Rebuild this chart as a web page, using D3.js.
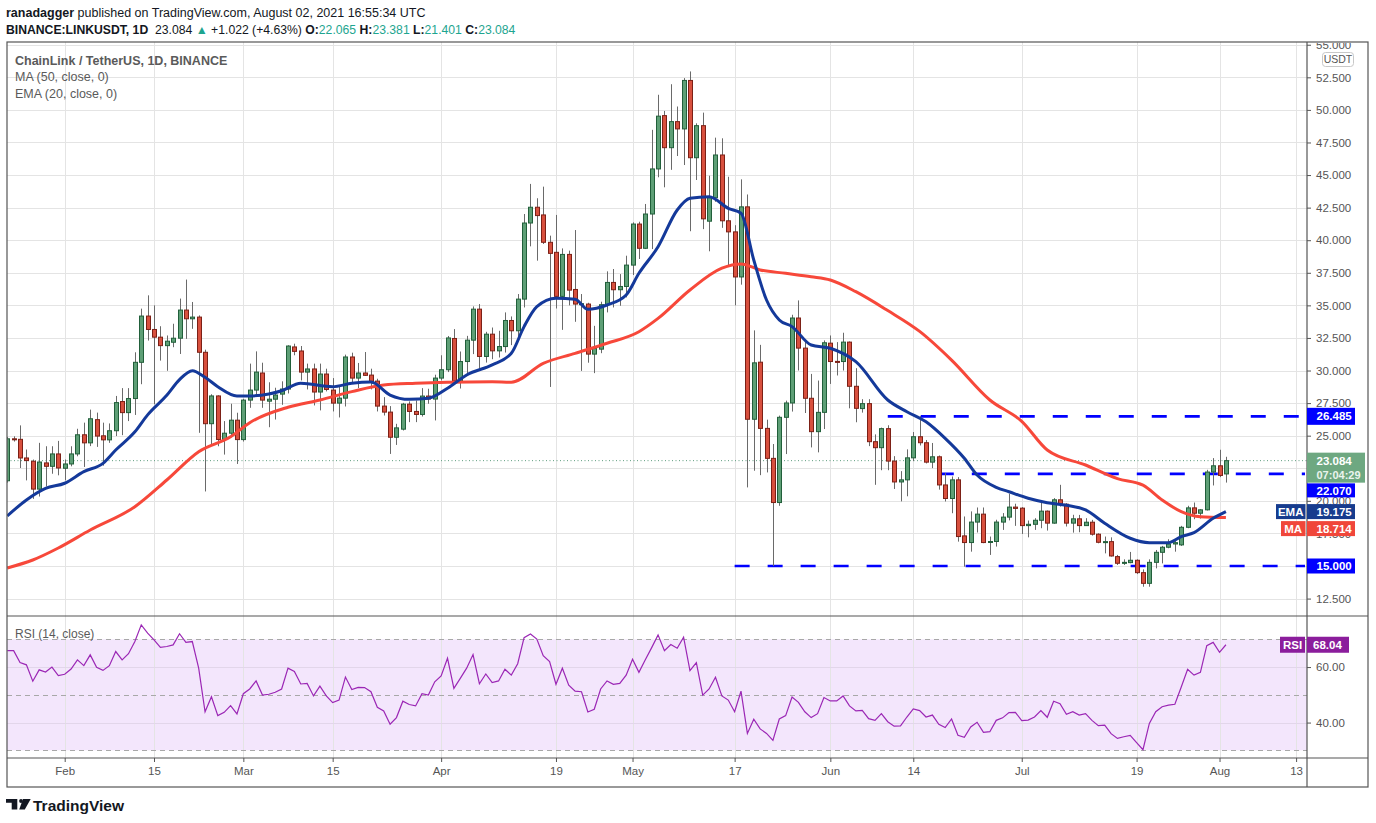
<!DOCTYPE html>
<html><head><meta charset="utf-8">
<script src="https://cdn.jsdelivr.net/npm/d3@7"></script>
<style>body{margin:0;background:#fff}svg{display:block;font-family:"Liberation Sans",Arial,sans-serif}</style>
</head><body>
<svg id="c" width="1376" height="823"></svg>
<script>
// ---------------- DATA ----------------
const startDay = "2021-01-23";
const opens = [
 21.54,24.76,24.72,23.29,23.04,20.90,22.91,22.65,23.60,
 22.50,22.83,23.60,25.07,24.45,26.23,24.99,24.68,25.38,27.62,26.77,27.85,30.63,34.18,33.15,32.56,31.91,32.17,32.48,34.64,33.97,34.10,31.40,25.92,28.05,24.71,25.19,26.19,
 24.70,27.73,28.50,29.81,27.65,27.80,28.19,28.58,31.81,31.50,29.88,30.12,28.35,29.73,28.50,27.50,27.88,31.04,29.42,29.81,29.65,29.19,27.27,26.81,24.88,25.50,27.42,26.86,26.63,28.04,27.81,
 29.42,30.06,32.46,29.21,30.69,32.33,34.71,31.08,32.79,31.51,31.84,33.84,33.05,35.48,41.32,42.53,41.94,39.84,39.07,35.69,38.91,36.22,35.10,35.10,31.26,31.64,35.05,36.76,36.20,36.45,
 38.09,41.24,39.38,42.01,45.47,49.56,47.10,49.10,48.54,52.26,46.33,48.79,41.46,43.26,46.54,41.49,40.64,37.18,42.56,26.26,30.64,25.56,23.26,19.87,26.41,27.51,34.03,31.72,27.87,25.31,26.79,
 32.10,30.70,30.69,32.18,28.79,27.08,27.46,24.54,24.08,25.54,23.05,21.45,21.61,23.30,24.92,24.46,22.97,23.38,21.22,20.18,21.61,17.31,16.80,18.37,18.98,16.85,16.88,18.37,18.75,19.52,
 19.44,18.10,18.20,18.51,19.21,18.29,20.08,19.74,18.29,18.62,18.10,18.36,17.44,16.82,16.87,15.72,15.23,15.26,15.44,14.49,13.67,15.28,16.05,16.44,16.69,16.62,17.97,19.46,19.05,19.31,22.21,
 22.69,22.065];
const highs = [
 24.90,24.95,25.79,23.94,23.17,24.45,24.19,24.19,24.60,
 23.17,24.19,25.53,26.00,27.00,26.77,26.00,25.94,28.05,28.65,28.65,31.40,34.75,35.77,35.00,33.40,32.69,33.59,35.52,36.98,35.26,34.23,31.60,28.18,28.10,26.12,27.45,26.76,
 27.83,30.53,31.47,30.60,29.10,28.68,29.17,31.94,32.06,31.88,30.53,30.53,30.53,30.14,29.42,28.86,31.22,31.37,30.58,31.42,30.14,29.37,27.96,27.27,25.91,27.52,27.63,27.70,28.65,28.60,29.68,
 31.17,32.65,33.18,31.46,32.66,34.92,35.10,32.97,33.30,33.05,34.46,34.15,35.87,42.01,44.32,43.22,44.11,40.35,41.94,39.37,39.20,40.78,35.87,35.20,33.43,35.28,37.61,37.79,37.40,38.81,
 41.37,41.42,42.78,48.47,51.16,49.92,51.97,50.26,52.44,52.95,48.97,49.79,44.95,47.87,47.82,44.87,41.15,44.67,43.51,33.08,31.97,26.23,24.36,26.54,27.69,34.28,35.38,32.23,29.74,29.23,32.31,
 32.69,32.18,32.90,32.23,30.18,27.80,27.80,25.10,25.62,25.80,23.43,22.28,23.95,25.28,26.50,24.67,24.44,23.48,22.13,21.87,21.82,18.80,19.19,19.49,19.49,17.26,18.55,19.06,20.55,19.78,
 19.52,18.49,18.67,19.96,19.26,20.21,21.23,19.82,18.93,18.92,18.67,18.54,17.51,17.26,17.20,15.85,15.51,16.08,15.51,14.74,15.51,16.23,16.54,17.05,16.95,18.08,19.62,19.87,19.36,22.38,23.28,
 23.92,23.381];
const lows = [
 21.40,24.55,22.52,21.57,20.15,20.33,21.10,22.08,21.96,
 21.57,22.65,23.42,22.60,24.20,24.14,22.70,24.45,24.97,25.04,26.12,26.59,28.95,32.30,27.41,30.76,29.98,31.79,31.27,32.43,33.20,25.22,20.72,24.32,24.19,23.55,24.88,22.83,
 24.55,27.14,28.04,27.14,25.65,26.24,27.37,28.24,31.17,29.24,28.55,27.32,26.94,28.40,26.86,26.40,27.24,28.99,28.65,29.58,28.55,26.86,26.55,23.60,24.29,25.40,26.04,26.04,26.47,27.45,26.17,
 29.24,29.88,28.90,28.62,29.59,31.26,30.15,30.61,30.87,31.00,31.38,31.95,32.36,34.84,39.53,38.43,39.71,28.74,34.76,33.12,35.00,33.74,29.97,30.60,29.80,31.33,34.46,34.84,34.97,35.61,
 37.33,38.56,39.32,39.32,44.83,44.06,45.40,46.46,45.77,40.69,44.62,40.85,39.15,42.95,40.95,37.95,35.00,36.59,21.03,22.31,21.97,22.18,15.00,19.62,23.59,26.85,30.00,26.74,24.10,23.72,25.51,
 28.97,29.62,30.00,27.10,26.03,26.77,24.20,21.23,22.35,22.35,20.91,19.96,20.35,23.05,24.25,22.87,22.51,20.86,19.95,19.05,16.87,14.95,16.10,17.57,16.75,15.85,16.49,17.77,18.50,18.08,
 17.46,17.20,17.77,17.90,17.72,18.24,19.56,18.03,17.56,17.59,18.08,17.33,16.74,15.97,15.72,15.08,15.08,15.21,14.38,13.41,13.41,14.82,15.20,16.36,16.10,16.54,17.90,18.59,18.64,19.26,21.18,
 21.82,21.401];
const closes = [
 24.76,24.72,23.29,23.09,20.90,22.98,22.65,23.60,22.52,
 22.83,23.60,25.07,24.45,26.30,24.97,24.68,25.38,27.54,26.77,27.85,30.63,34.18,33.15,32.56,31.91,32.25,32.48,34.64,33.97,34.10,31.40,25.92,28.05,24.71,25.19,26.19,24.70,
 27.73,28.50,29.88,27.73,27.80,28.12,28.58,31.88,31.47,29.88,30.12,28.35,29.73,28.55,27.50,27.88,31.04,29.42,29.81,29.63,29.17,27.27,26.81,24.88,25.60,27.42,26.86,26.63,28.04,27.81,29.42,
 30.06,32.50,29.21,30.69,32.33,34.71,31.08,32.79,31.51,31.84,33.84,33.05,35.48,41.32,42.53,41.89,39.84,38.99,35.69,38.91,36.17,35.10,35.13,31.26,31.69,35.05,36.76,36.20,36.45,38.09,
 41.24,39.38,42.01,45.47,49.52,47.10,49.10,48.54,52.26,46.33,48.79,41.64,43.26,46.54,41.49,40.64,37.18,42.56,26.26,30.59,25.56,23.26,19.87,26.41,27.51,34.03,31.72,27.87,25.31,26.79,32.13,
 30.69,30.66,32.18,28.79,27.10,27.46,24.54,24.08,25.54,23.05,21.45,21.61,23.30,24.92,24.46,22.97,23.38,21.22,20.18,21.61,17.26,16.80,18.37,18.98,16.80,16.88,18.37,18.75,19.52,19.42,
 18.10,18.20,18.51,19.21,18.29,20.08,19.74,18.29,18.62,18.10,18.36,17.44,16.82,16.87,15.77,15.21,15.28,15.44,14.49,13.67,15.28,16.05,16.44,16.69,16.79,17.97,19.46,19.05,19.31,22.21,22.69,
 21.95,23.084];
const rsiValues = [
 65.9,65.9,61.6,60.8,54.9,59.0,58.2,60.0,56.9,
 57.4,59.3,62.6,60.5,64.4,59.9,58.8,60.5,65.6,62.6,64.8,69.2,75.2,72.2,69.8,67.1,67.4,68.0,72.0,68.9,69.2,59.6,43.9,49.3,42.5,43.7,46.1,43.1,
 50.4,52.1,55.0,49.9,50.2,50.9,52.1,59.6,58.4,53.9,54.1,49.6,53.1,49.6,47.2,48.1,56.4,51.9,52.7,52.6,51.1,45.5,44.2,39.4,41.8,47.7,46.5,46.0,50.4,49.9,54.7,
 56.8,63.2,52.3,55.9,59.6,64.5,54.0,57.5,54.4,55.0,59.2,57.1,61.2,70.6,71.9,70.1,64.1,62.0,53.8,59.6,53.5,51.3,51.1,43.8,44.8,52.1,55.0,53.8,54.1,57.1,
 62.8,58.1,62.6,67.0,71.6,65.9,68.1,66.8,70.8,58.7,61.6,49.9,52.1,56.3,49.6,48.1,43.9,51.3,36.1,41.2,37.7,36.1,33.6,41.3,42.5,49.2,47.3,43.9,41.8,43.2,49.0,
 47.8,47.8,49.6,46.0,44.2,44.4,41.4,40.8,43.2,40.3,38.7,38.8,42.0,44.9,44.3,42.0,42.7,39.4,38.2,41.3,35.4,34.7,38.4,40.1,36.5,36.7,40.8,41.7,43.6,43.7,
 40.7,40.9,42.0,44.3,41.9,47.7,46.8,43.0,43.9,42.7,43.2,40.8,38.9,39.1,36.0,34.3,34.9,35.4,32.8,30.2,39.7,43.9,45.7,46.3,46.6,52.8,59.2,57.1,58.1,67.7,68.9,
 65.3,68.04];
const maPoints = [
 ["2021-01-23",14.85],["2021-01-27",15.46],["2021-01-31",16.38],["2021-02-05",17.76],["2021-02-12",19.55],["2021-02-17",21.6],
 ["2021-02-22",23.77],["2021-02-27",24.92],["2021-03-02",26.0],["2021-03-08",27.18],["2021-03-13",27.74],["2021-03-18",28.38],
 ["2021-03-23",28.89],["2021-03-28",29.02],["2021-04-02",29.1],["2021-04-09",29.14],["2021-04-12",29.1],["2021-04-17",30.55],
 ["2021-04-22",31.32],["2021-04-27",32.09],["2021-05-02",32.98],["2021-05-05",34.0],["2021-05-10",36.18],["2021-05-15",37.85],
 ["2021-05-18",38.18],["2021-05-21",37.72],["2021-05-25",37.46],["2021-05-29",37.2],["2021-06-01",36.95],["2021-06-05",36.05],
 ["2021-06-10",34.6],["2021-06-15",33.0],["2021-06-20",30.8],["2021-06-26",27.74],["2021-07-01",26.1],["2021-07-05",23.9],
 ["2021-07-11",22.75],["2021-07-16",21.7],["2021-07-20",21.2],["2021-07-23",20.07],["2021-07-26",19.17],["2021-07-29",18.78],["2021-08-02",18.714]];
const emaPoints = [
 ["2021-01-23",18.84],["2021-01-26",20.07],["2021-01-29",20.96],["2021-02-01",21.35],["2021-02-04",22.24],["2021-02-07",22.88],
 ["2021-02-09",23.9],["2021-02-12",25.3],["2021-02-14",26.6],["2021-02-17",28.1],["2021-02-19",29.3],["2021-02-21",29.99],
 ["2021-02-23",29.48],["2021-02-25",28.76],["2021-02-28",28.05],["2021-03-02",28.05],["2021-03-05",28.2],["2021-03-07",28.45],
 ["2021-03-10",29.02],["2021-03-15",28.76],["2021-03-18",29.02],["2021-03-21",29.12],["2021-03-24",28.12],["2021-03-27",27.79],
 ["2021-03-30",27.87],["2021-04-02",28.64],["2021-04-05",29.66],["2021-04-09",30.43],["2021-04-12",31.32],["2021-04-14",33.37],
 ["2021-04-16",34.9],["2021-04-19",35.55],["2021-04-22",35.47],["2021-04-24",34.7],["2021-04-27",35.03],["2021-04-30",35.8],
 ["2021-05-02",37.46],["2021-05-05",39.5],["2021-05-08",42.32],["2021-05-10",43.22],["2021-05-13",43.34],["2021-05-16",42.45],
 ["2021-05-18",42.07],["2021-05-20",38.48],["2021-05-22",35.41],["2021-05-24",33.88],["2021-05-26",33.37],["2021-05-29",31.96],
 ["2021-06-01",31.71],["2021-06-05",30.68],["2021-06-10",27.74],["2021-06-13",26.84],["2021-06-16",26.07],["2021-06-19",24.8],
 ["2021-06-22",23.27],["2021-06-24",21.98],["2021-06-27",21.04],["2021-06-29",20.7],["2021-07-02",20.2],["2021-07-05",19.86],
 ["2021-07-08",19.66],["2021-07-11",19.3],["2021-07-14",18.28],["2021-07-18",17.13],["2021-07-21",16.79],["2021-07-24",16.79],
 ["2021-07-26",17.25],["2021-07-28",17.56],["2021-07-31",18.66],["2021-08-02",19.175]];
const priceTicks = [12.5,15,17.5,20,22.5,25,27.5,30,32.5,35,37.5,40,42.5,45,47.5,50,52.5,55];
const hiddenTickLabels = [22.5]; // covered by the price tags in the original
const rsiTicks = [40,60];
const rsiLevels = [70,50,30];
const timeTicks = ["2021-02-01","2021-02-15","2021-03-01","2021-03-15","2021-04-01","2021-04-19","2021-05-01","2021-05-17","2021-06-01","2021-06-14","2021-07-01","2021-07-19","2021-08-01","2021-08-13"];
const timeTickLabels = ["Feb","15","Mar","15","Apr","19","May","17","Jun","14","Jul","19","Aug","13"];
const levelValues = [26.485, 22.07, 15.0];
const levelStarts = ["2021-06-10","2021-06-18","2021-05-17"];
const lastPrice = 23.084, emaLast = 19.175, maLast = 18.714, rsiLast = 68.04;

// ---------------- LAYOUT ----------------
const L=7, R=1307, FR=1368, T=42, PB=615, RT=617, RB=758, XB=787;
const parse = d3.utcParse("%Y-%m-%d");
const svg = d3.select("#c");
const x = d3.scaleUtc().domain([new Date(Date.UTC(2021,0,22,23)), new Date(Date.UTC(2021,7,14,17))]).range([L,R]);
const y = d3.scaleLinear().domain([11.24,55.21]).range([PB,T]);
const yr = d3.scaleLinear().domain([27.23,78.04]).range([RB,RT]);
const s0 = parse(startDay);
const days = d3.utcDay.range(s0, d3.utcDay.offset(s0, closes.length));
const candles = days.map((d,i)=>({d, o:opens[i], h:highs[i], l:lows[i], c:closes[i]}));

const defs = svg.append("defs");
defs.append("clipPath").attr("id","cp").append("rect").attr("x",L).attr("y",T).attr("width",R-L).attr("height",PB-T);
defs.append("clipPath").attr("id","cr").append("rect").attr("x",L).attr("y",RT).attr("width",R-L).attr("height",RB-RT);
defs.append("clipPath").attr("id","ca").append("rect").attr("x",R).attr("y",T+1).attr("width",FR-R).attr("height",PB-T);

// header
const h1 = svg.append("text").attr("x",6).attr("y",16.5).attr("font-size",12.5).attr("fill","#131722");
h1.append("tspan").attr("font-weight","bold").text("ranadagger");
h1.append("tspan").text(" published on TradingView.com, August 02, 2021 16:55:34 UTC");
const teal = "#1ea58f";
const h2 = svg.append("text").attr("x",6).attr("y",33.5).attr("font-size",12.2).attr("fill","#131722").attr("xml:space","preserve");
const h2items = [
  ["BINANCE:LINKUSDT, 1D","#131722","bold"],["  23.084 ","#131722","normal"],["▲",teal,"normal"],
  [" +1.022 (+4.63%) ","#131722","normal"],["O:","#131722","bold"],["22.065 ",teal,"normal"],
  ["H:","#131722","bold"],["23.381 ",teal,"normal"],["L:","#131722","bold"],["21.401 ",teal,"normal"],
  ["C:","#131722","bold"],["23.084",teal,"normal"]];
h2.selectAll("tspan").data(h2items).join("tspan")
  .attr("fill",d=>d[1]).attr("font-weight",d=>d[2]).text(d=>d[0]);

// RSI band
svg.append("rect").attr("x",L).attr("width",R-L).attr("y",yr(70)).attr("height",yr(30)-yr(70)).attr("fill","#f3e6fc");

// grid
const grid = svg.append("g").attr("stroke","#e4e4e4").attr("stroke-width",1);
grid.selectAll(".v").data(timeTicks).join("line").attr("x1",d=>Math.round(x(parse(d)))+0.5).attr("x2",d=>Math.round(x(parse(d)))+0.5).attr("y1",T).attr("y2",RB);
grid.selectAll(".h").data(priceTicks).join("line").attr("x1",L).attr("x2",R).attr("y1",d=>Math.round(y(d))+0.5).attr("y2",d=>Math.round(y(d))+0.5).attr("clip-path","url(#cp)");
svg.append("g").attr("stroke","#e2d6ea").selectAll("line").data(rsiTicks).join("line").attr("x1",L).attr("x2",R).attr("y1",d=>Math.round(yr(d))+0.5).attr("y2",d=>Math.round(yr(d))+0.5);
svg.append("g").attr("stroke","#a8a8a8").attr("stroke-dasharray","5,4").selectAll("line").data(rsiLevels).join("line").attr("x1",L).attr("x2",R).attr("y1",d=>Math.round(yr(d))+0.5).attr("y2",d=>Math.round(yr(d))+0.5);

// legend
const lg = svg.append("g").attr("fill","#5a5a5a").attr("font-size",12.5);
lg.append("text").attr("x",15).attr("y",64.5).attr("font-weight","bold").text("ChainLink / TetherUS, 1D, BINANCE");
lg.append("text").attr("x",15).attr("y",81).text("MA (50, close, 0)");
lg.append("text").attr("x",15).attr("y",98).text("EMA (20, close, 0)");

// price pane content
const pp = svg.append("g").attr("clip-path","url(#cp)");
pp.append("line").attr("x1",L).attr("x2",R).attr("y1",y(lastPrice)).attr("y2",y(lastPrice))
  .attr("stroke","#5e9c7e").attr("stroke-dasharray","1,2.5").attr("stroke-width",1);
pp.selectAll(".lvl").data(levelValues).join("line")
  .attr("x1",(d,i)=>x(parse(levelStarts[i]))).attr("x2",R-2).attr("y1",d=>y(d)).attr("y2",d=>y(d))
  .attr("stroke","#0000ff").attr("stroke-width",2.6).attr("stroke-dasharray","15,18");
pp.append("g").attr("stroke","#6a6a6a").attr("stroke-width",1).selectAll("line").data(candles).join("line")
  .attr("x1",d=>Math.round(x(d.d))+0.5).attr("x2",d=>Math.round(x(d.d))+0.5).attr("y1",d=>y(d.h)).attr("y2",d=>y(d.l));
pp.append("g").selectAll("rect").data(candles).join("rect")
  .attr("x",d=>Math.round(x(d.d))-1.5).attr("width",4)
  .attr("y",d=>y(Math.max(d.o,d.c))).attr("height",d=>Math.max(1,Math.abs(y(d.o)-y(d.c))))
  .attr("fill",d=>d.c>=d.o?"#5e9f76":"#d8503e").attr("stroke",d=>d.c>=d.o?"#215f3a":"#7c2016").attr("stroke-width",1);
const lineGen = d3.line().x(d=>x(parse(d[0]))).y(d=>y(d[1])).curve(d3.curveMonotoneX);
pp.append("path").datum(maPoints).attr("d",lineGen).attr("fill","none").attr("stroke","#f7483a").attr("stroke-width",3).attr("stroke-linejoin","round");
pp.append("path").datum(emaPoints).attr("d",lineGen).attr("fill","none").attr("stroke","#14399a").attr("stroke-width",3).attr("stroke-linejoin","round");

// RSI line
svg.append("g").attr("clip-path","url(#cr)").append("path").datum(rsiValues)
  .attr("d",d3.line().x((d,i)=>x(days[i])).y(d=>yr(d)))
  .attr("fill","none").attr("stroke","#9b27b5").attr("stroke-width",1.2);
svg.append("text").attr("x",15).attr("y",638).attr("font-size",12).attr("fill","#5a5a5a").text("RSI (14, close)");

// frame
const fr = svg.append("g").attr("stroke","#555").attr("stroke-width",1.2).attr("fill","none");
fr.append("rect").attr("x",L).attr("y",T).attr("width",FR-L).attr("height",XB-T);
fr.append("line").attr("x1",R).attr("x2",R).attr("y1",T).attr("y2",XB);
fr.append("line").attr("x1",L).attr("x2",FR).attr("y1",PB+1).attr("y2",PB+1);
fr.append("line").attr("x1",L).attr("x2",FR).attr("y1",RB).attr("y2",RB);

// axes
function styleAxis(g){ g.select(".domain").remove(); g.selectAll(".tick line").attr("stroke","#555"); g.selectAll("text").attr("fill","#555").attr("font-family","Liberation Sans, Arial, sans-serif"); }
svg.append("g").attr("clip-path","url(#ca)").append("g").attr("transform",`translate(${R},0)`)
  .call(d3.axisRight(y).tickValues(priceTicks).tickFormat(d=>hiddenTickLabels.includes(d)?"":d3.format(".3f")(d)).tickSize(4).tickPadding(5))
  .attr("font-size",11.5).call(styleAxis);
svg.append("g").attr("transform",`translate(${R},0)`)
  .call(d3.axisRight(yr).tickValues(rsiTicks).tickFormat(d3.format(".2f")).tickSize(4).tickPadding(5))
  .attr("font-size",11.5).call(styleAxis);
svg.append("g").attr("transform",`translate(0,${RB})`)
  .call(d3.axisBottom(x).tickValues(timeTicks.map(parse)).tickFormat((d,i)=>timeTickLabels[i]).tickSize(4).tickPadding(5))
  .attr("font-size",11.5).call(styleAxis);

// USDT tag
svg.append("rect").attr("x",1322.5).attr("y",52.5).attr("width",31).attr("height",14).attr("rx",3).attr("fill","#fff").attr("stroke","#c8c8c8");
svg.append("text").attr("x",1338).attr("y",63).attr("text-anchor","middle").attr("font-size",10.5).attr("fill","#555").text("USDT");

// right tags
function tag(cy, h, txt, fill, x0=R, w=48){
  svg.append("rect").attr("x",x0).attr("y",cy-h/2).attr("width",w).attr("height",h).attr("fill",fill);
  svg.append("text").attr("x",x0+9.5).attr("y",cy).attr("dy","0.36em").attr("font-size",11.5).attr("font-weight","bold").attr("fill","#fff").text(txt);
}
tag(y(26.485), 17, "26.485", "#0000ff");
tag(y(22.07)+16.5, 14, "22.070", "#0000ff");
tag(y(15.0), 15, "15.000", "#0000ff");
svg.append("rect").attr("x",R).attr("y",y(lastPrice)-8).attr("width",58).attr("height",30).attr("fill","#6ea881");
svg.append("text").attr("x",R+9.5).attr("y",y(lastPrice)+0.5).attr("dy","0.36em").attr("font-size",11.5).attr("font-weight","bold").attr("fill","#fff").text("23.084");
svg.append("text").attr("x",R+9.5).attr("y",y(lastPrice)+14).attr("dy","0.36em").attr("font-size",11).attr("font-weight","bold").attr("fill","#eaf4ee").text("07:04:29");
tag(y(emaLast), 15, "19.175", "#173c8e");
svg.append("rect").attr("x",1276).attr("y",y(emaLast)-7.5).attr("width",29.5).attr("height",15).attr("fill","#173c8e");
svg.append("text").attr("x",1290.7).attr("y",y(emaLast)).attr("dy","0.36em").attr("text-anchor","middle").attr("font-size",11.5).attr("font-weight","bold").attr("fill","#fff").text("EMA");
tag(y(maLast)+11, 15, "18.714", "#f0463a");
svg.append("rect").attr("x",1281).attr("y",y(maLast)+3.5).attr("width",24.5).attr("height",15).attr("fill","#f0463a");
svg.append("text").attr("x",1293.2).attr("y",y(maLast)+11).attr("dy","0.36em").attr("text-anchor","middle").attr("font-size",11.5).attr("font-weight","bold").attr("fill","#fff").text("MA");
svg.append("rect").attr("x",R).attr("y",yr(rsiLast)-8).attr("width",42).attr("height",16).attr("fill","#8b1d9c");
svg.append("text").attr("x",R+6).attr("y",yr(rsiLast)).attr("dy","0.36em").attr("font-size",11.5).attr("font-weight","bold").attr("fill","#fff").text("68.04");
svg.append("rect").attr("x",1280).attr("y",yr(rsiLast)-8).attr("width",25).attr("height",16).attr("fill","#8b1d9c");
svg.append("text").attr("x",1292.5).attr("y",yr(rsiLast)).attr("dy","0.36em").attr("text-anchor","middle").attr("font-size",11.5).attr("font-weight","bold").attr("fill","#fff").text("RSI");

// TradingView logo
const logo = svg.append("g").attr("fill","#131722");
logo.append("path").attr("d","M6,799 H17.3 V809.5 H11.7 V802.8 H6 Z");
logo.append("circle").attr("cx",21).attr("cy",801).attr("r",1.9);
logo.append("path").attr("d","M23,799 H30.7 L24.8,809.5 H19.2 Z");
svg.append("text").attr("x",33).attr("y",810.5).attr("font-size",15.5).attr("font-weight","bold").attr("fill","#131722").text("TradingView");
</script>
</body></html>
